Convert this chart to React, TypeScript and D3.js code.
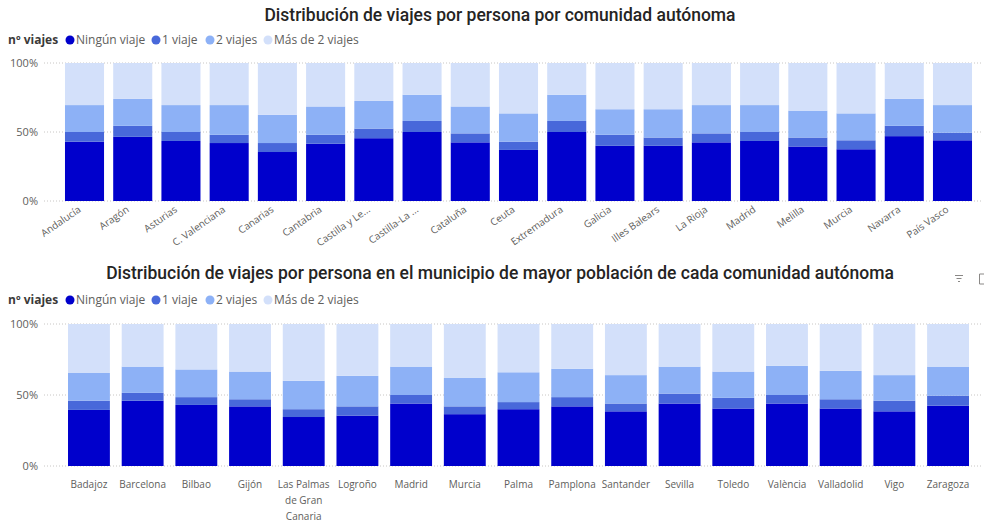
import React, { useEffect } from "react";
import * as d3 from "d3";

const seriesNames = ["Ningún viaje", "1 viaje", "2 viajes", "Más de 2 viajes"];
const seriesColors = ["#0000CC", "#4868DA", "#8DB1F6", "#D3E0FA"];

const regions = [
  "Andalucía", "Aragón", "Asturias", "C. Valenciana", "Canarias", "Cantabria",
  "Castilla y Le...", "Castilla-La ...", "Cataluña", "Ceuta", "Extremadura",
  "Galicia", "Illes Balears", "La Rioja", "Madrid", "Melilla", "Murcia",
  "Navarra", "País Vasco",
];
const regionNinguno = [43, 46.5, 43.5, 42, 35.5, 41.5, 45.5, 50, 42.5, 37, 50, 40, 40, 42.5, 43.5, 39.5, 37.5, 47, 44];
const regionUno = [7, 8, 6.5, 6, 6.5, 6.5, 7, 8, 6.5, 6, 8, 8, 6, 6.5, 6.5, 6.5, 6.5, 7.5, 5.5];
const regionDos = [19.5, 19.5, 19.5, 21.5, 20.5, 20.5, 20, 19, 19.5, 20.5, 19, 18.5, 20.5, 20.5, 19.5, 19.5, 19.5, 19.5, 20];
const regionMas = [30.5, 26, 30.5, 30.5, 37.5, 31.5, 27.5, 23, 31.5, 36.5, 23, 33.5, 33.5, 30.5, 30.5, 34.5, 36.5, 26, 30.5];

const cities = [
  "Badajoz", "Barcelona", "Bilbao", "Gijón", "Las Palmas de Gran Canaria",
  "Logroño", "Madrid", "Murcia", "Palma", "Pamplona", "Santander", "Sevilla",
  "Toledo", "València", "Valladolid", "Vigo", "Zaragoza",
];
const cityNinguno = [39.5, 46, 43, 42, 34.5, 35.5, 44, 36.5, 40, 42, 38.5, 44, 40.5, 44, 40.5, 38.5, 42.5];
const cityUno = [6.5, 5.5, 5.5, 5, 5.5, 6.5, 6, 5.5, 5, 6.5, 5.5, 7, 7.5, 6, 6.5, 7.5, 7];
const cityDos = [19.5, 18.5, 19.5, 19.5, 20, 21.5, 20, 20, 21, 20, 20, 19, 18.5, 20.5, 20, 18, 20.5];
const cityMas = [34.5, 30, 32, 33.5, 40, 36.5, 30, 38, 34, 31.5, 36, 30, 33.5, 29.5, 33, 36, 30];

const yTicks = [0, 50, 100];

const FONT = "'Segoe UI', 'Open Sans', 'Noto Sans', sans-serif";
const TITLE_FONT = "Roboto, 'Noto Sans', sans-serif";

type Row = { name: string; values: number[] };

function buildRows(names: string[], a: number[], b: number[], c: number[], d: number[]): Row[] {
  return names.map((name, i) => ({ name, values: [a[i], b[i], c[i], d[i]] }));
}

function Legend({ y }: { y: number }) {
  const items = [70, 156, 210, 268];
  return (
    <g>
      <text x={8} y={y + 4} fontFamily={FONT} fontSize={12} fontWeight={700} fill="#3b3a39">
        nº viajes
      </text>
      {seriesNames.map((s, i) => (
        <g key={s}>
          <circle cx={items[i]} cy={y} r={4.5} fill={seriesColors[i]} />
          <text x={items[i] + 6} y={y + 4} fontFamily={FONT} fontSize={12} fill="#605e5c">
            {s}
          </text>
        </g>
      ))}
    </g>
  );
}

function Chart({
  rows, title, titleY, legendY, yTop, yBottom, xRange, padInner, rotated,
}: {
  rows: Row[]; title: string; titleY: number; legendY: number; yTop: number; yBottom: number;
  xRange: [number, number]; padInner: number; rotated: boolean;
}) {
  const x = d3.scaleBand<string>().domain(rows.map((r) => r.name)).range(xRange).paddingInner(padInner).paddingOuter(padInner / 2);
  const y = d3.scaleLinear().domain([0, 100]).range([yBottom, yTop]);
  const stackData = rows.map((r) => {
    const o: any = { name: r.name };
    seriesNames.forEach((s, i) => (o[s] = r.values[i]));
    return o;
  });
  const stacked = d3.stack<any>().keys(seriesNames)(stackData);

  return (
    <g>
      <text x={500} y={titleY} textAnchor="middle" fontFamily={TITLE_FONT} fontWeight={500} fontSize={17.5} fill="#252423">
        {title}
      </text>
      <Legend y={legendY} />
      {yTicks.map((t) => (
        <g key={t}>
          <line x1={44} x2={982} y1={y(t)} y2={y(t)} stroke="#c8c6c4" strokeWidth={1} strokeDasharray="1,2" />
          <text x={38} y={y(t) + 4} textAnchor="end" fontFamily={FONT} fontSize={11} fill="#605e5c">
            {t}%
          </text>
        </g>
      ))}
      {stacked.map((layer, li) => (
        <g key={layer.key} fill={seriesColors[li]}>
          {layer.map((d: any) => (
            <rect
              key={d.data.name}
              x={x(d.data.name)}
              width={x.bandwidth()}
              y={y(d[1])}
              height={y(d[0]) - y(d[1])}
            />
          ))}
        </g>
      ))}
      {rows.map((r) => {
        const cx = (x(r.name) as number) + x.bandwidth() / 2;
        if (rotated) {
          return (
            <text
              key={r.name}
              transform={`translate(${cx - 3},${yBottom + 10}) rotate(-35)`}
              textAnchor="end"
              fontFamily={FONT}
              fontSize={10}
              fill="#605e5c"
            >
              {r.name}
            </text>
          );
        }
        const lines = r.name === "Las Palmas de Gran Canaria" ? ["Las Palmas", "de Gran", "Canaria"] : [r.name];
        return (
          <text key={r.name} x={cx} y={yBottom + 22} textAnchor="middle" fontFamily={FONT} fontSize={10} fill="#605e5c">
            {lines.map((l, i) => (
              <tspan key={i} x={cx} dy={i === 0 ? 0 : 16}>
                {l}
              </tspan>
            ))}
          </text>
        );
      })}
    </g>
  );
}

export default function App() {
  useEffect(() => {
    document.body.style.margin = "0";
  }, []);
  const top = buildRows(regions, regionNinguno, regionUno, regionDos, regionMas);
  const bottom = buildRows(cities, cityNinguno, cityUno, cityDos, cityMas);
  return (
    <svg width={985} height={523} style={{ display: "block", background: "#fff" }}>
      <Chart
        rows={top}
        title="Distribución de viajes por persona por comunidad autónoma"
        titleY={21}
        legendY={40}
        yTop={63}
        yBottom={201}
        xRange={[60.4, 976.6]}
        padInner={0.19}
        rotated={true}
      />
      <Chart
        rows={bottom}
        title="Distribución de viajes por persona en el municipio de mayor población de cada comunidad autónoma"
        titleY={279}
        legendY={300}
        yTop={324}
        yBottom={466}
        xRange={[62.1, 974.9]}
        padInner={0.22}
        rotated={false}
      />
      <g stroke="#8a8886" strokeWidth={1}>
        <line x1={955} x2={963} y1={275.5} y2={275.5} />
        <line x1={956.5} x2={961.5} y1={278.5} y2={278.5} />
        <line x1={958} x2={960} y1={281.5} y2={281.5} />
      </g>
      <path d="M984 274 L979.5 274 L979.5 284 L984 284" fill="none" stroke="#8a8886" strokeWidth={1} />
    </svg>
  );
}
